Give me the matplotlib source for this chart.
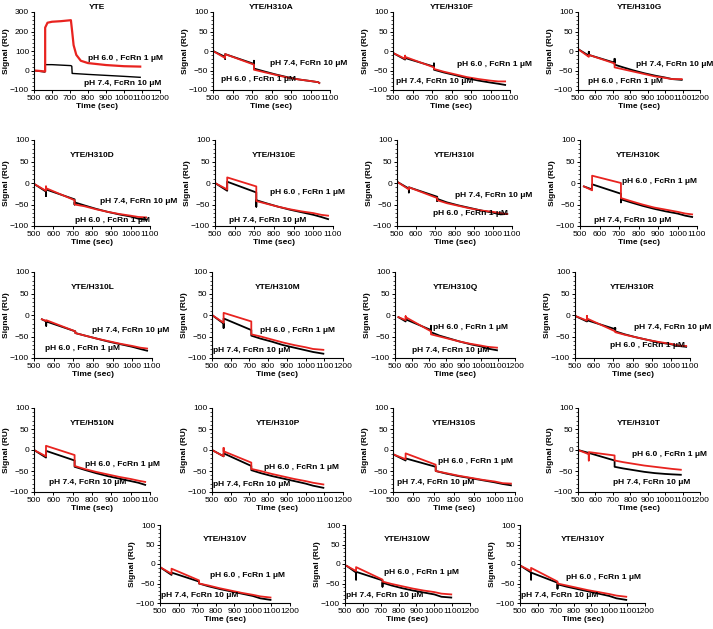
import matplotlib.pyplot as plt
from matplotlib.ticker import MultipleLocator

plt.rcParams['font.family'] = ['Liberation Sans', 'DejaVu Sans']
plt.rcParams['font.size'] = 6
plt.rcParams['axes.linewidth'] = 0.8

# panel names, x axis end, start / end time of the traces
names = ['YTE', 'YTE/H310A', 'YTE/H310F', 'YTE/H310G',
         'YTE/H310D', 'YTE/H310E', 'YTE/H310I', 'YTE/H310K',
         'YTE/H310L', 'YTE/H310M', 'YTE/H310Q', 'YTE/H310R',
         'YTE/H510N', 'YTE/H310P', 'YTE/H310S', 'YTE/H310T',
         'YTE/H310V', 'YTE/H310W', 'YTE/H310Y']
x_max = [1200, 1100, 1100, 1200,
         1100, 1100, 1100, 1100,
         1100, 1200, 1200, 1100,
         1100, 1200, 1100, 1200,
         1200, 1200, 1200]
t_start = [500, 500, 500, 500,
           500, 500, 500, 520,
           540, 500, 520, 500,
           500, 500, 500, 500,
           500, 510, 505]
t_end = [1090, 1045, 1075, 1095,
         1080, 1075, 1075, 1075,
         1075, 1095, 1095, 1080,
         1075, 1095, 1080, 1090,
         1095, 1095, 1095]
# shared sample times (injection at ~562 s, dissociation at ~710 s)
t_mid = [562, 562, 562, 710, 710, 710, 760, 820, 880, 940, 1000, 1040]

# pH 7.4, FcRn 10 uM (black) and pH 6.0, FcRn 1 uM (red)
black = {
    'YTE/H310A': [0, -15, -20, -8, -33, -25, -45, -52, -60, -67, -73, -77, -80, -82],
    'YTE/H310F': [-5, -22, -22, -18, -40, -32, -48, -55, -62, -70, -76, -81, -84, -87],
    'YTE/H310G': [5, -12, -2, -10, -30, -20, -35, -42, -50, -57, -63, -68, -72, -74],
    'YTE/H310D': [-2, -20, -30, -15, -38, -50, -45, -52, -60, -67, -73, -78, -83, -85],
    'YTE/H310E': [0, -18, -18, 3, -22, -55, -40, -47, -55, -62, -68, -74, -79, -84],
    'YTE/H310I': [3, -13, -22, -10, -32, -42, -37, -45, -52, -58, -64, -69, -73, -72],
    'YTE/H310K': [-8, -15, -15, -3, -25, -45, -38, -45, -53, -60, -66, -71, -76, -79],
    'YTE/H310L': [-10, -15, -25, -15, -38, -42, -42, -48, -55, -62, -68, -74, -79, -83],
    'YTE/H310M': [0, -20, -30, -8, -35, -45, -48, -55, -62, -70, -76, -82, -86, -90],
    'YTE/H310Q': [-5, -15, -15, -10, -35, -25, -40, -48, -55, -62, -68, -73, -78, -82],
    'YTE/H310R': [-2, -15, -15, -12, -33, -30, -38, -45, -52, -58, -64, -68, -72, -74],
    'YTE/H510N': [0, -18, -18, -2, -25, -40, -40, -47, -55, -62, -68, -74, -78, -83],
    'YTE/H310P': [0, -15, -15, -8, -38, -48, -48, -55, -62, -68, -74, -80, -85, -90],
    'YTE/H310S': [-10, -25, -25, -20, -40, -50, -50, -56, -62, -67, -72, -77, -81, -84],
    'YTE/H310T': [0, -7, -7, -7, -25, -40, -40, -44, -48, -52, -55, -57, -58, -59],
    'YTE/H310V': [-8, -28, -28, -22, -45, -50, -50, -57, -64, -70, -76, -82, -88, -92],
    'YTE/H310W': [-5, -22, -40, -20, -42, -58, -48, -55, -62, -68, -73, -78, -84, -86],
    'YTE/H310Y': [-5, -22, -40, -22, -48, -63, -52, -58, -64, -70, -76, -82, -88, -92],
}
red = {
    'YTE/H310A': [0, -18, -18, -8, -35, -48, -48, -54, -61, -68, -73, -77, -80, -82],
    'YTE/H310F': [-5, -20, -12, -15, -42, -42, -46, -53, -60, -67, -72, -76, -78, -78],
    'YTE/H310G': [5, -15, -15, -10, -32, -42, -42, -47, -53, -59, -65, -69, -72, -72],
    'YTE/H310D': [-2, -18, -8, -12, -40, -50, -50, -54, -61, -67, -72, -76, -79, -80],
    'YTE/H310E': [0, -15, -15, 13, -8, -42, -42, -48, -55, -61, -66, -70, -74, -76],
    'YTE/H310I': [3, -15, -15, -10, -35, -35, -40, -47, -53, -59, -64, -67, -70, -72],
    'YTE/H310K': [-8, -17, -17, 17, 0, -35, -35, -42, -50, -57, -62, -67, -71, -73],
    'YTE/H310L': [-10, -14, -14, -12, -38, -42, -42, -48, -55, -61, -67, -72, -76, -78],
    'YTE/H310M': [0, -18, -18, 5, -15, -45, -45, -50, -57, -64, -70, -75, -79, -81],
    'YTE/H310Q': [-5, -12, -3, -5, -38, -45, -45, -50, -56, -62, -67, -71, -74, -76],
    'YTE/H310R': [-2, -13, -2, -8, -38, -40, -40, -46, -52, -58, -63, -67, -71, -72],
    'YTE/H510N': [0, -15, -15, 10, -12, -38, -38, -45, -52, -58, -64, -69, -73, -76],
    'YTE/H310P': [0, -15, 5, -3, -30, -45, -45, -50, -57, -63, -69, -74, -78, -82],
    'YTE/H310S': [-10, -22, -22, -8, -35, -50, -50, -55, -61, -66, -71, -75, -79, -80],
    'YTE/H310T': [0, -10, -25, -5, -13, -25, -25, -29, -33, -37, -40, -43, -45, -47],
    'YTE/H310V': [-8, -25, -25, -12, -42, -50, -50, -55, -62, -68, -74, -79, -83, -86],
    'YTE/H310W': [-5, -18, -18, -8, -40, -45, -45, -51, -57, -63, -68, -72, -76, -78],
    'YTE/H310Y': [-5, -18, -18, -10, -45, -50, -50, -55, -61, -67, -72, -77, -81, -84],
}

# YTE has its own scale and sampling
yte_t_red = [500, 540, 562, 562, 575, 600, 650, 705, 712, 720, 735, 760, 800, 900, 1000, 1090]
yte_red = [0, -3, -5, 220, 245, 250, 253, 258, 200, 130, 80, 50, 38, 28, 22, 20]
yte_t_black = [500, 560, 562, 600, 705, 710, 712, 800, 900, 1000, 1090]
yte_black = [0, -8, 30, 30, 25, 22, -15, -20, -25, -30, -35]

# label positions (x, y) in data units: red label, black label
red_label = [(800, 60), (540, -72), (830, -35), (560, -78),
             (710, -88), (780, -22), (690, -72), (715, 3),
             (555, -78), (755, -35), (720, -28), (680, -72),
             (765, -35), (780, -42), (720, -28), (810, -10),
             (770, -30), (720, -22), (760, -35)]
black_label = [(780, -65), (790, -32), (515, -78), (830, -35),
               (840, -42), (570, -88), (805, -30), (570, -88),
               (795, -35), (505, -82), (600, -82), (810, -30),
               (575, -78), (505, -83), (520, -78), (700, -78),
               (505, -82), (505, -82), (505, -82)]

RED_TXT = 'pH 6.0 , FcRn 1 \u03bcM'
BLACK_TXT = 'pH 7.4, FcRn 10 \u03bcM'

# axes boxes in pixels: left, right, top, bottom
boxes = [(34, 160, 12, 90), (213, 330, 12, 90), (393, 510, 12, 90), (578, 700, 12, 90),
         (34, 150, 140, 226), (215, 333, 140, 226), (397, 512, 140, 226), (580, 697, 140, 226),
         (34, 152, 272, 358), (212, 343, 272, 358), (395, 515, 272, 358), (575, 690, 272, 358),
         (34, 150, 408, 492), (212, 343, 408, 492), (393, 515, 408, 492), (578, 700, 408, 492),
         (160, 290, 525, 603), (345, 470, 525, 603), (520, 645, 525, 603)]

W, H = 713, 629
fig = plt.figure(figsize=(W / 100, H / 100), dpi=100)

for i, name in enumerate(names):
    l, r, t, b = boxes[i]
    ax = fig.add_axes([l / W, 1 - b / H, (r - l) / W, (b - t) / H])
    if name == 'YTE':
        ax.plot(yte_t_black, yte_black, color='black', lw=1.0)
        ax.plot(yte_t_red, yte_red, color='#e8231f', lw=1.6)
        ax.set_ylim(-100, 300)
        ax.yaxis.set_major_locator(MultipleLocator(100))
        ax.yaxis.set_minor_locator(MultipleLocator(20))
    else:
        tt = [t_start[i]] + t_mid + [t_end[i]]
        ax.plot(tt, black[name], color='black', lw=1.3)
        ax.plot(tt, red[name], color='#e8231f', lw=1.3)
        ax.set_ylim(-100, 100)
        ax.yaxis.set_major_locator(MultipleLocator(50))
        ax.yaxis.set_minor_locator(MultipleLocator(10))
    ax.set_xlim(500, x_max[i])
    ax.xaxis.set_major_locator(MultipleLocator(100))
    ax.spines['top'].set_visible(False)
    ax.spines['right'].set_visible(False)
    ax.tick_params(length=2.5, width=0.7, pad=1, labelsize=6)
    ax.tick_params(which='minor', length=1.5, width=0.5)
    ax.set_xlabel('Time (sec)', fontweight='bold', labelpad=1)
    ax.set_ylabel('Signal (RU)', fontweight='bold', labelpad=0)
    ty = 1.06 if i < 4 else 0.82
    ax.text(0.5, ty, name, transform=ax.transAxes, ha='center', va='center',
            fontweight='bold', fontsize=6)
    ax.text(red_label[i][0], red_label[i][1], RED_TXT, fontweight='bold',
            fontsize=6, va='center')
    ax.text(black_label[i][0], black_label[i][1], BLACK_TXT, fontweight='bold',
            fontsize=6, va='center')

fig.savefig('out.png', dpi=100)
